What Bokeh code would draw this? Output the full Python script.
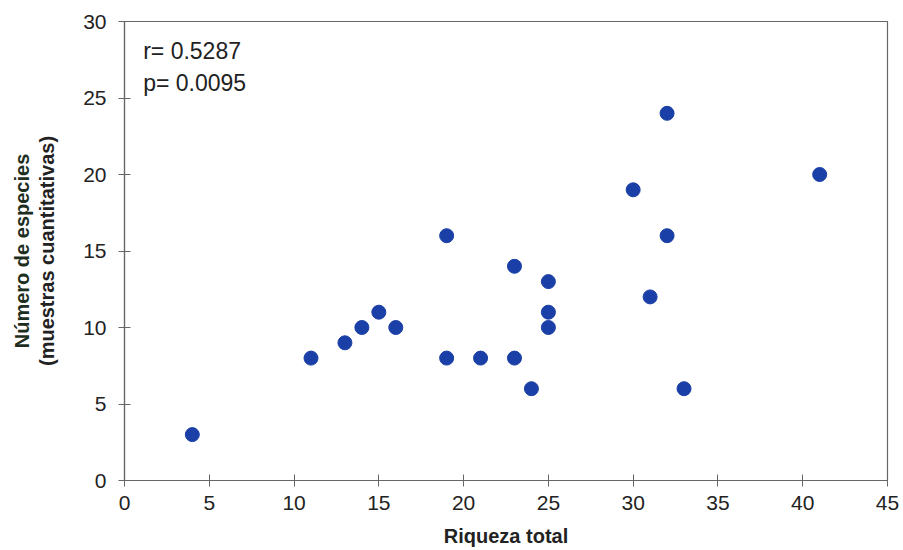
from bokeh.plotting import figure
from bokeh.models import Label, Title, Range1d, FixedTicker
from bokeh.embed import file_html
from bokeh.resources import INLINE

# Data
riqueza_total = [4, 11, 13, 14, 15, 16, 19, 19, 21, 23, 23, 24, 25, 25, 25, 30, 31, 32, 32, 33, 41]
num_especies = [3, 8, 9, 10, 11, 10, 16, 8, 8, 14, 8, 6, 13, 11, 10, 19, 12, 24, 16, 6, 20]
x_ticks = [0, 5, 10, 15, 20, 25, 30, 35, 40, 45]
y_ticks = [0, 5, 10, 15, 20, 25, 30]
stats_lines = ["r= 0.5287", "p= 0.0095"]

FONT = "Liberation Sans"
AXIS_COLOR = "#666666"
TEXT_COLOR = "#222222"

p = figure(width=903, height=550, output_backend="svg", toolbar_location=None,
           x_range=Range1d(0, 45), y_range=Range1d(0, 30),
           min_border_left=124, min_border_right=16, min_border_top=21, min_border_bottom=70,
           background_fill_color="white", border_fill_color="white")

p.xgrid.visible = False
p.ygrid.visible = False
p.outline_line_color = AXIS_COLOR
p.outline_line_width = 1.2

for ax in (p.xaxis[0], p.yaxis[0]):
    ax.axis_line_color = AXIS_COLOR
    ax.axis_line_width = 1.2
    ax.major_tick_line_color = AXIS_COLOR
    ax.major_tick_in = 6
    ax.major_tick_out = 6
    ax.minor_tick_line_color = None
    ax.major_label_text_font = FONT
    ax.major_label_text_font_size = "21px"
    ax.major_label_text_color = TEXT_COLOR
    ax.axis_label_text_font = FONT
    ax.axis_label_text_font_style = "bold"
    ax.axis_label_text_font_size = "20px"
    ax.axis_label_text_color = TEXT_COLOR

p.xaxis[0].ticker = FixedTicker(ticks=x_ticks)
p.yaxis[0].ticker = FixedTicker(ticks=y_ticks)
p.xaxis[0].major_label_standoff = 9
p.yaxis[0].major_label_standoff = 12
p.xaxis[0].axis_label = "Riqueza total"
p.xaxis[0].axis_label_standoff = 12
p.yaxis[0].axis_label = "(muestras cuantitativas)"
p.yaxis[0].axis_label_standoff = 22

t = Title(text="Número de especies", align="center", text_font=FONT,
          text_font_style="bold", text_font_size="20px", text_color="#1e2e1e",
          standoff=2)
p.add_layout(t, "left")

p.scatter(riqueza_total, num_especies, size=14, marker="circle",
          fill_color="#1a3fa6", line_color="#1a3fa6")

for i, txt in enumerate(stats_lines):
    p.add_layout(Label(x=1.1, y=28.9 - i * 2.1, text=txt, text_font=FONT,
                       text_font_size="23px", text_color=TEXT_COLOR,
                       text_baseline="top", text_align="left"))

open("out.html", "w").write(file_html(p, INLINE))
